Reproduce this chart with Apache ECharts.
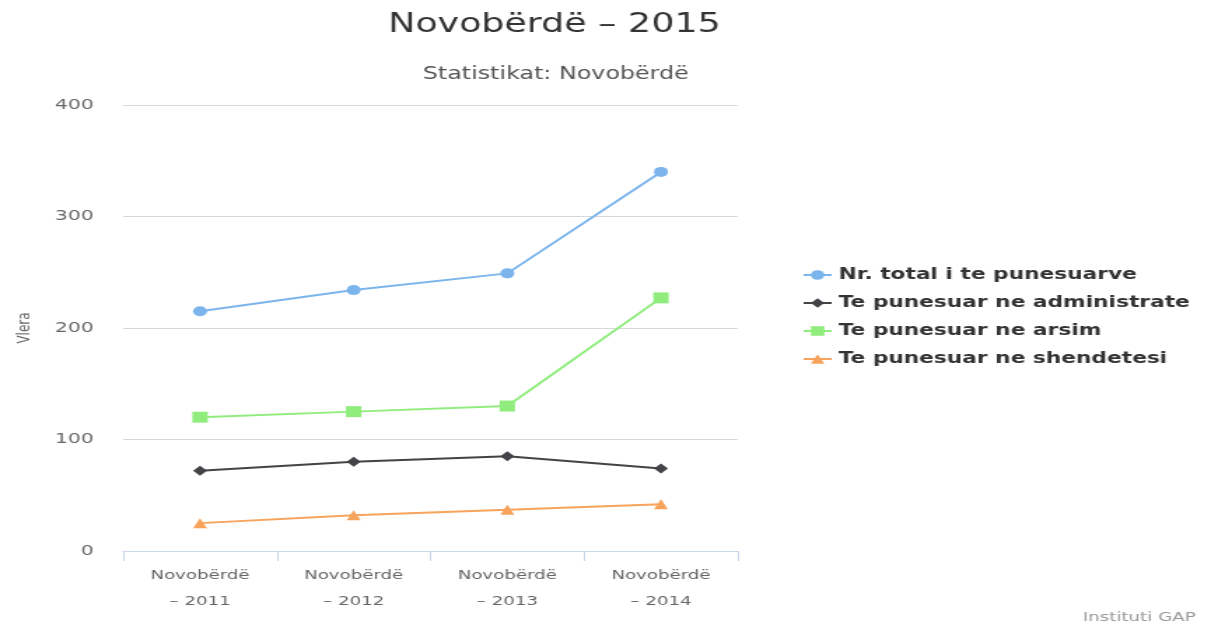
<!DOCTYPE html>
<html>
<head>
<meta charset="utf-8">
<title>Novobërdë - 2015</title>
<script src="https://cdn.jsdelivr.net/npm/echarts@6/dist/echarts.min.js"></script>
<style>
	html, body { margin: 0; padding: 0; background: #fff; overflow: hidden; }
	/* the reference picture is stretched sideways, so the chart is drawn narrow and widened */
	#chart { width: 877px; height: 635px; transform: scaleX(1.4); transform-origin: 0 0; }
</style>
</head>
<body>
<div id="chart"></div>
<script>
var categories = ['Novobërdë\n– 2011', 'Novobërdë\n– 2012', 'Novobërdë\n– 2013', 'Novobërdë\n– 2014'];
var seriesNames = ['Nr. total i te punesuarve', 'Te punesuar ne administrate', 'Te punesuar ne arsim', 'Te punesuar ne shendetesi'];
var totalData = [215, 234, 249, 340];
var adminData = [72, 80, 85, 74];
var arsimData = [120, 125, 130, 227];
var shendetData = [25, 32, 37, 42];
var yTicks = [0, 100, 200, 300, 400];

var font = 'DejaVu Sans, Verdana, sans-serif';
var chart = echarts.init(document.getElementById('chart'));

function makeSeries(name, data, color, symbol, size) {
	return {
		name: name,
		type: 'line',
		data: data,
		symbol: symbol,
		symbolSize: size,
		showAllSymbol: true,
		lineStyle: { width: 2, color: color },
		itemStyle: { color: color },
		emphasis: { disabled: true }
	};
}

var option = {
	backgroundColor: '#fff',
	animation: false,
	textStyle: { fontFamily: font },
	title: [{
		text: 'Novobërdë – 2015',
		left: 391,
		top: 7,
		textAlign: 'center',
		textStyle: { fontSize: 26, fontWeight: 'normal', color: '#333', fontFamily: font }
	}, {
		text: 'Statistikat: Novobërdë',
		left: 392,
		top: 61,
		textAlign: 'center',
		textStyle: { fontSize: 17, fontWeight: 'normal', color: '#555', fontFamily: font }
	}, {
		text: 'Instituti GAP',
		right: 18,
		bottom: 6,
		textStyle: { fontSize: 13, fontWeight: 'normal', color: '#999', fontFamily: font }
	}],
	legend: {
		orient: 'vertical',
		left: 568,
		top: 262,
		itemWidth: 20,
		itemHeight: 12,
		itemGap: 12,
		data: seriesNames,
		textStyle: { fontSize: 15.5, fontWeight: 'bold', color: '#333', fontFamily: font }
	},
	grid: {
		left: 88,
		right: 350,
		top: 105,
		bottom: 84,
		containLabel: false
	},
	xAxis: {
		type: 'category',
		data: categories,
		boundaryGap: true,
		axisLine: { lineStyle: { color: '#ccd6eb' } },
		axisTick: { show: true, length: 10, alignWithLabel: false, lineStyle: { color: '#ccd6eb' } },
		axisLabel: { fontSize: 13, color: '#666', lineHeight: 26, margin: 12, fontFamily: font }
	},
	yAxis: {
		type: 'value',
		min: yTicks[0],
		max: yTicks[yTicks.length - 1],
		interval: 100,
		name: 'Vlera',
		nameLocation: 'middle',
		nameRotate: 90,
		nameGap: 64,
		nameTextStyle: { fontSize: 12, color: '#666', fontFamily: font },
		axisLine: { show: false },
		axisTick: { show: false },
		axisLabel: { fontSize: 14.5, color: '#666', margin: 21, fontFamily: font },
		splitLine: { lineStyle: { color: '#d8d8d8', width: 1 } }
	},
	series: [
		makeSeries(seriesNames[0], totalData, '#7cb5ec', 'circle', 10),
		makeSeries(seriesNames[1], adminData, '#434348', 'diamond', 10),
		makeSeries(seriesNames[2], arsimData, '#90ed7d', 'rect', 11),
		makeSeries(seriesNames[3], shendetData, '#f7a35c', 'triangle', 10)
	]
};

chart.setOption(option);
window.addEventListener('resize', function () {
	chart.resize();
});
</script>
</body>
</html>
